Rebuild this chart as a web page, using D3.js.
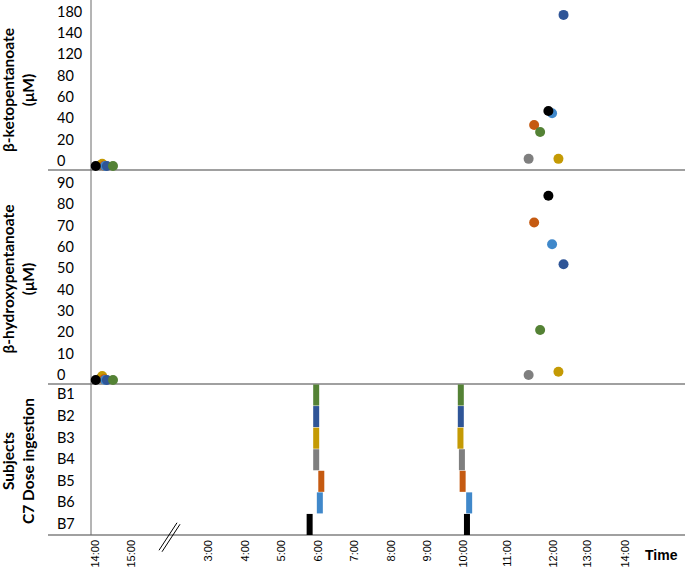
<!DOCTYPE html>
<html><head><meta charset="utf-8">
<script src="https://cdn.jsdelivr.net/npm/d3@7/dist/d3.min.js"></script>
<style>body{margin:0;background:#fff}svg{display:block}</style>
</head><body>
<script>
// ---------- data ----------
const subjects = ["B1","B2","B3","B4","B5","B6","B7"];
const subjectColors = ["#548235","#2F5597","#C49A04","#7F7F7F","#C55A11","#4088CA","#000000"];
const drawOrder = ["B4","B3","B5","B6","B2","B1","B7"];

const ketoTicks = [0,20,40,60,80,120,140,180];
const hydroxyTicks = [0,10,20,30,40,50,60,70,80,90];

// time in hours elapsed since day-1 midnight
const timeTicks  = [14,15,27,28,29,30,31,32,33,34,35,36,37,38];
const timeLabels = ["14:00","15:00","3:00","4:00","5:00","6:00","7:00","8:00","9:00","10:00","11:00","12:00","13:00","14:00"];

const baselineTime    = [14.5,14.33,14.2,14.15,14.25,14.28,14.02];
const baselineKeto    = [-4.7,-4.7,-2.5,-4.0,-4.5,-4.7,-4.7];
const baselineHydroxy = [-2.3,-2.3,-0.5,-1.5,-2.0,-2.3,-2.3];

const sampleTime    = [35.72,36.31,36.16,35.47,35.59,35.98,35.90];
const ketoValues    = [27.2,174,2,2,33.8,44.8,46.8];
const hydroxyValues = [21.1,51.8,1.5,0,71.4,61.2,83.9];

const dose1Time = [29.97,29.97,29.97,29.97,30.11,30.07,29.79];
const dose2Time = [33.94,33.94,33.93,33.97,33.99,34.14,34.09];

// ---------- layout ----------
const W = 685, H = 572;
const axisX = 91, lineX0 = 48, lineX1 = 685;
const panels = {top:[0,170], mid:[170,384], bot:[384,535]};

const svg = d3.select("body").append("svg").attr("width",W).attr("height",H);

const x = d3.scaleLinear()
  .domain([14,15,27,34,35,36,37,38])
  .range([95,131,208,463,507,553,587,625]);

const ketoStep = 21.33, ketoZero = 161;
const yKeto = d3.scaleLinear()
  .domain(ketoTicks)
  .range(ketoTicks.map((d,i)=>ketoZero - i*ketoStep));
const yHyd = d3.scaleLinear().domain([0,90]).range([375,182.7]);
const yBand = d3.scaleBand().domain(subjects).range(panels.bot).padding(0);

const color = d3.scaleOrdinal().domain(subjects).range(subjectColors);

// panel separator lines
svg.selectAll("line.sep").data([panels.top[1],panels.mid[1],panels.bot[1]]).join("line")
  .attr("class","sep").attr("x1",lineX0).attr("x2",lineX1).attr("y1",d=>d).attr("y2",d=>d)
  .attr("stroke","#808080").attr("stroke-width",1.3);
// vertical axis
svg.append("line").attr("x1",axisX).attr("x2",axisX).attr("y1",0).attr("y2",panels.bot[1])
  .attr("stroke","#6a6a6a").attr("stroke-width",1);

const tickFont = "Lato, 'Liberation Sans', sans-serif";
function styleLeft(g){
  g.select(".domain").remove();
  g.selectAll("text").attr("x",-(axisX-57)).attr("text-anchor","start")
    .attr("font-family",tickFont).attr("font-size",14.5).attr("fill","#000");
}
svg.append("g").attr("transform",`translate(${axisX},0)`)
  .call(d3.axisLeft(yKeto).tickValues(ketoTicks).tickSize(0)).call(styleLeft);
svg.append("g").attr("transform",`translate(${axisX},0)`)
  .call(d3.axisLeft(yHyd).tickValues(hydroxyTicks).tickSize(0)).call(styleLeft);
svg.append("g").attr("transform",`translate(${axisX},0)`)
  .call(d3.axisLeft(yBand).tickSize(0)).call(styleLeft);

// x axis
const xAxis = svg.append("g").attr("transform",`translate(0,${panels.bot[1]})`)
  .call(d3.axisBottom(x).tickValues(timeTicks).tickSize(0)
        .tickFormat((d,i)=>timeLabels[i]));
xAxis.select(".domain").remove();
xAxis.selectAll("text")
  .attr("transform","rotate(-90)").attr("text-anchor","end")
  .attr("x",-5).attr("y",0).attr("dy","0.35em")
  .attr("font-family","'Liberation Sans', Arial, sans-serif").attr("font-size",11).attr("fill","#000");

svg.append("text").attr("x",645).attr("y",559.5).text("Time")
  .attr("font-family","'Liberation Sans', Arial, sans-serif").attr("font-weight","bold")
  .attr("font-size",14);

// axis break mark
const bx = x(21);
[-1.5,1.5].forEach(o=>{
  svg.append("line").attr("x1",bx-9+o).attr("y1",551+o*0.5).attr("x2",bx+9+o).attr("y2",523.5+o*0.5)
    .attr("stroke","#000").attr("stroke-width",1);
});

// y titles
function title(lines, cy){
  const t = svg.append("text").attr("transform",`translate(0,${cy}) rotate(-90)`)
    .attr("text-anchor","middle").attr("font-family",tickFont)
    .attr("font-weight","bold").attr("font-size",15.5);
  lines.forEach((l,i)=>t.append("tspan").attr("x",0).attr("y",i===0?14:34).text(l));
}
title(["β-ketopentanoate","(μM)"], 90);
title(["β-hydroxypentanoate","(μM)"], 279);
title(["Subjects","C7 Dose ingestion"], 461);

// points
const idx = s => subjects.indexOf(s);
const r = 5;
function points(yScale, baseVals, vals){
  const g = svg.append("g");
  g.selectAll("circle.b").data(drawOrder).join("circle").attr("class","b")
    .attr("cx",s=>x(baselineTime[idx(s)])).attr("cy",s=>yScale(baseVals[idx(s)]))
    .attr("r",r).attr("fill",s=>color(s));
  g.selectAll("circle.p").data(drawOrder).join("circle").attr("class","p")
    .attr("cx",s=>x(sampleTime[idx(s)])).attr("cy",s=>yScale(vals[idx(s)]))
    .attr("r",r).attr("fill",s=>color(s));
}
points(yKeto, baselineKeto, ketoValues);
points(yHyd, baselineHydroxy, hydroxyValues);

// dose bars
const barW = 6;
[dose1Time, dose2Time].forEach(times=>{
  svg.append("g").selectAll("rect").data(subjects).join("rect")
    .attr("x",(s,i)=>x(times[i])-barW/2).attr("width",barW)
    .attr("y",s=>yBand(s)+0.5).attr("height",yBand.bandwidth()-0.5)
    .attr("fill",s=>color(s));
});
</script>
</body></html>
